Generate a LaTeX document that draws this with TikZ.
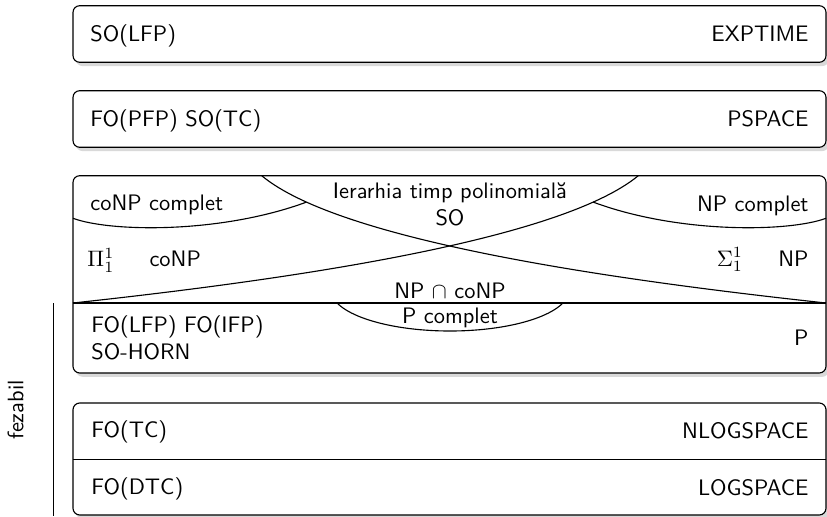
\documentclass[tikz,border=0pt]{standalone}
\usetikzlibrary{shadows}
\begin{document}
\tikzset{
  box/.style={draw=black, line width=0.5pt, rounded corners=3pt, fill=white,
    drop shadow={shadow xshift=1.3pt, shadow yshift=-1.7pt, fill=black!15, opacity=1}},
  ln/.style={draw=black, line width=0.5pt},
  lbl/.style={inner sep=0pt, font=\sffamily},
}
\begin{tikzpicture}[x=0.4464pt, y=-0.4464pt]
\useasboundingbox (0,0) rectangle (827,516);
% boxes
\path[box] (73,5.7) rectangle (826,62.3);
\path[box] (73,90.7) rectangle (826,147.3);
\path[box] (73,175.7) rectangle (826,373);
\path[box] (73,403) rectangle (826,515);
% dividers
\draw[ln] (73,303) -- (826,303);
\draw[ln] (73,459.3) -- (826,459.3);
% big crossing curves
\draw[ln] (73,303) .. controls (295,279) and (560,240) .. coordinate[pos=0.855] (lcx) (638.3,175.7);
\draw[ln] (826,303) .. controls (604,279) and (339,240) .. coordinate[pos=0.855] (rcx) (261.7,175.7);
% coNP complete / NP complete arcs
\draw[ln] (73,218.3) .. controls (110,232) and (220,234) .. (rcx);
\draw[ln] (826,218.3) .. controls (789,232) and (679,234) .. (lcx);
% P complete arc
\begin{scope}
\clip (73,303) rectangle (826,373);
\draw[ln] (450,290) ellipse [x radius=119, y radius=41];
\end{scope}
% feasible line
\draw[ln] (53.3,303.3) -- (53.3,516);
% texts
\node[lbl, anchor=base west] (t1l) at (90,41.5) {SO(LFP)};
\node[lbl, anchor=base east] (t1r) at (809,41.5) {EXPTIME};
\node[lbl, anchor=base west] (t2l) at (90,126.3) {FO(PFP) SO(TC)};
\node[lbl, anchor=base east] (t2r) at (809,126.5) {PSPACE};
\node[lbl, anchor=base west] (conpc) at (90,210.7) {coNP complet};
\node[lbl, anchor=base east] (npc) at (809,211) {NP complet};
\node[lbl, anchor=base, align=center] (ph) at (450,225) {Ierarhia timp polinomială\\SO};
\node[lbl, anchor=base west] (pi) at (87,266.5) {\makebox[27.7pt][l]{$\Pi^1_1$}coNP};
\node[lbl, anchor=base east] (sigma) at (809,266) {\makebox[27.5pt][l]{$\Sigma^1_1$}NP};
\node[lbl, anchor=base] (npconp) at (450,298) {NP $\cap$ coNP};
\node[lbl, anchor=base] (pc) at (450,323) {P complet};
\node[lbl, anchor=base west, align=left] (pl) at (91,359.3) {FO(LFP) FO(IFP)\\SO-HORN};
\node[lbl, anchor=base east] (pr) at (809,345.7) {P};
\node[lbl, anchor=base west] (t4l) at (91,437) {FO(TC)};
\node[lbl, anchor=base east] (t4r) at (809,438) {NLOGSPACE};
\node[lbl, anchor=base west] (t5l) at (91,494) {FO(DTC)};
\node[lbl, anchor=base east] (t5r) at (809,495) {LOGSPACE};
\node[lbl, anchor=base, rotate=90] (fez) at (23.3,410) {fezabil};
\end{tikzpicture}
\end{document}
